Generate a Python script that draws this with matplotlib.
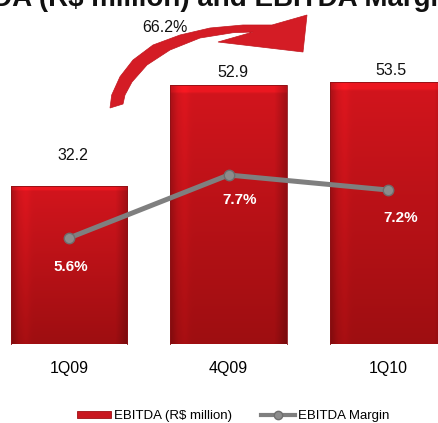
import matplotlib.pyplot as plt
import matplotlib.transforms as mtransforms
import numpy as np
from matplotlib.colors import to_rgb
from matplotlib.lines import Line2D
from matplotlib.patches import Patch, PathPatch
from matplotlib.path import Path

plt.rcParams['font.family'] = ['Liberation Sans', 'DejaVu Sans']

quarters = ['1Q09', '4Q09', '1Q10']
ebitda = [32.2, 52.9, 53.5]
margin = [5.6, 7.7, 7.2]
growth_label = '66.2%'

W, H = 438, 423
fig = plt.figure(figsize=(W / 100, H / 100), dpi=100)

# pixel helper: (x, y) measured from the top-left corner
px = mtransforms.Affine2D().scale(1 / W, -1 / H).translate(0, 1) + fig.transFigure

base_px, top_px = 344.5, 40
ax = fig.add_axes([0, 1 - base_px / H, 1, (base_px - top_px) / H])
ax.set_xlim(-69 / 159.5, (W - 69) / 159.5)
ax.set_ylim(0, (base_px - top_px) / 4.91)
for s in ax.spines.values():
    s.set_visible(False)
ax.set_yticks([])
x = np.arange(len(quarters))
ax.set_xticks(x, quarters, fontsize=11.5)
ax.tick_params(axis='x', length=0, pad=12)

# bars with a shaded red fill
bars = ax.bar(x, ebitda, width=0.73, facecolor='none', edgecolor='#8c1216',
              linewidth=0.6, zorder=3)
top_c = np.array(to_rgb('#d3151d'))
bot_c = np.array(to_rgb('#9e0e11'))
ny, nx = 120, 60
t = np.linspace(0, 1, ny)[:, None, None]
grad = top_c * (1 - t) + bot_c * t
u = np.linspace(0, 1, nx)
edge = 1 - 0.18 * np.clip(1 - u / 0.06, 0, 1) - 0.22 * np.clip((u - 0.9) / 0.1, 0, 1)
stripe = 1 + 0.06 * np.exp(-((u - 0.12) / 0.04) ** 2)
img = np.clip(grad * (edge * stripe)[None, :, None], 0, 1)
img[:4] = np.clip(img[:4] * 1.12, 0, 1)
for b in bars:
    x0, w, h = b.get_x(), b.get_width(), b.get_height()
    im = ax.imshow(img, extent=[x0, x0 + w, 0, h], aspect='auto',
                   interpolation='bilinear', zorder=2)
    im.set_clip_path(b)

# values above the bars (offsets in pixels)
value_offsets = [(4, 31), (4, 12), (3, 11)]
for xi, v, (dx, dy) in zip(x, ebitda, value_offsets):
    ax.annotate(f'{v:.1f}', (xi, v), xytext=(dx * 0.72, dy * 0.72),
                textcoords='offset points', ha='center', va='center',
                fontsize=11.5, color='#111111')

# margin line on a secondary axis
ax2 = ax.twinx()
ax2.set_ylim(5.6 - (base_px - 238) / 30, 5.6 + (238 - top_px) / 30)
ax2.set_axis_off()
ax2.plot(x, margin, color='#7f7f7f', linewidth=3.6, marker='o', markersize=7.5,
         markerfacecolor='#8c8c8c', markeredgecolor='#6e6e6e', zorder=4)
margin_offsets = [(2, -29), (11, -25), (13, -28)]
for xi, m, (dx, dy) in zip(x, margin, margin_offsets):
    ax2.annotate(f'{m:.1f}%', (xi, m), xytext=(dx * 0.72, dy * 0.72),
                 textcoords='offset points', ha='center', va='center',
                 fontsize=11, fontweight='bold', color='white')

# curved growth arrow
arrow_pts = [(110, 108), (111.7, 95), (120, 76.7), (133, 60), (153, 45),
             (180, 35), (210, 28), (243, 25), (272, 25), (307, 15),
             (303, 52), (218, 42), (253, 32), (233, 32.7), (200, 38),
             (170, 50), (147, 65), (132, 82), (125, 95), (123, 104),
             (110, 108)]
arrow = PathPatch(Path(arrow_pts, closed=True), transform=px,
                  facecolor='#d41c25', edgecolor='#c0161e', linewidth=0.5,
                  zorder=5, clip_on=False)
fig.patches.append(arrow)
fig.text(165 / W, 1 - 27 / H, growth_label, ha='center', va='center',
         fontsize=11.5, color='#111111')

# title running off the top edge
fig.text(192 / W, 1 - 6.5 / H, 'EBITDA (R$ million) and EBITDA Margin',
         ha='center', va='baseline', fontsize=20, fontweight='bold',
         color='#111111')

handles = [Patch(facecolor='#c81820', edgecolor='#a01015', linewidth=0.6),
           Line2D([], [], color='#7f7f7f', linewidth=3, marker='o',
                  markersize=6, markerfacecolor='#8c8c8c',
                  markeredgecolor='#6e6e6e')]
fig.legend(handles, ['EBITDA (R$ million)', 'EBITDA Margin'], loc='center',
           bbox_to_anchor=(233 / W, 1 - 416 / H), ncol=2, frameon=False,
           fontsize=9.5, handlelength=2.6, handleheight=0.5,
           handletextpad=0.2, columnspacing=2.2, borderaxespad=0,
           borderpad=0)

fig.savefig('out.png', dpi=100)
